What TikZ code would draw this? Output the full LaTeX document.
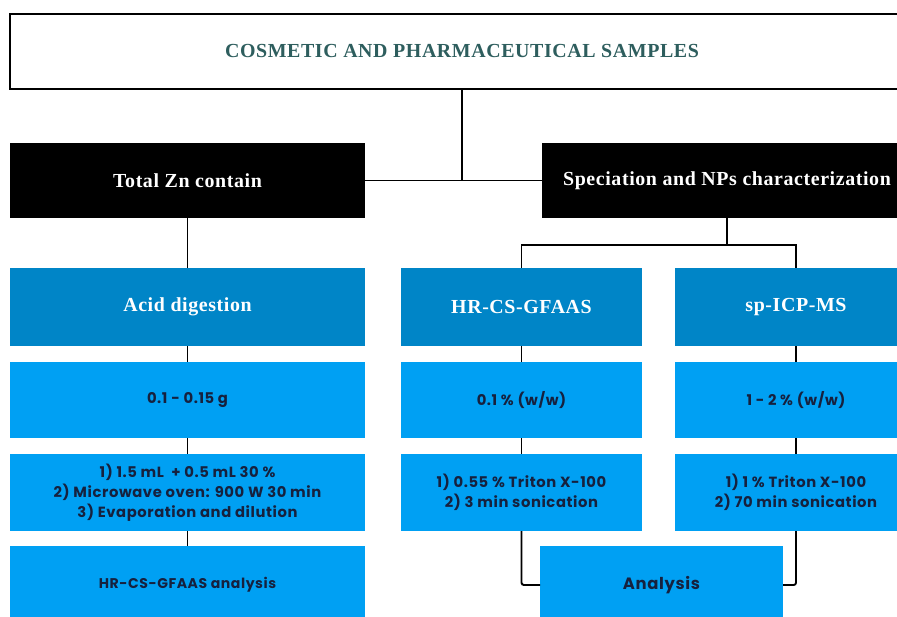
\documentclass[tikz,border=0pt]{standalone}
\usepackage{fontspec}
\setmainfont{Liberation Serif}
\newfontfamily\stepfont{Poppins}[LetterSpace=4]
\newfontfamily\headfont{Liberation Serif}[LetterSpace=3]

\definecolor{titleteal}{HTML}{2E5E5E}
\definecolor{methodblue}{HTML}{0085C7}
\definecolor{stepblue}{HTML}{00A0F3}
\definecolor{stepink}{HTML}{16213E}

\begin{document}
\begin{tikzpicture}[
  x=0.3mm, y=-0.3mm,
  box/.style={inner sep=0pt, outer sep=0pt, align=center},
  titlebox/.style={box, draw=black, line width=2.4pt, fill=white,
    minimum width=271.2mm, minimum height=22.5mm, text=titleteal,
    font=\headfont\bfseries\fontsize{17}{20}\selectfont},
  catbox/.style={box, fill=black, text=white, minimum height=22.5mm,
    font=\headfont\bfseries\fontsize{17}{20}\selectfont},
  methodbox/.style={box, fill=methodblue, text=white, minimum height=23.4mm,
    font=\headfont\bfseries\fontsize{17}{20}\selectfont},
  stepbox/.style={box, fill=stepblue, text=stepink,
    font=\stepfont\bfseries\fontsize{12.6}{17}\selectfont},
  link/.style={line width=1.6pt, black}
]
  \useasboundingbox (0,0) rectangle (897,617);

  % top of the tree
  \node[titlebox] (top) at (462,51.5) {COSMETIC AND PHARMACEUTICAL SAMPLES};

  % the two branches
  \node[catbox, minimum width=106.5mm] (total) at (187.5,180.5) {Total Zn contain};
  \node[catbox, minimum width=111mm] (spec) at (727,180.5) {Speciation and NPs characterization};

  % methods
  \node[methodbox, minimum width=106.5mm] (acid) at (187.5,307) {Acid digestion};
  \node[methodbox, minimum width=72.3mm] (hrcs) at (521.5,307) {HR-CS-GFAAS};
  \node[methodbox, minimum width=72.6mm] (spicp) at (796,307) {sp-ICP-MS};

  % sample mass / concentration
  \node[stepbox, minimum width=106.5mm, minimum height=22.8mm] (mass) at (187.5,400) {0.1 - 0.15 g};
  \node[stepbox, minimum width=72.3mm, minimum height=22.8mm] (hrconc) at (521.5,400) {0.1 \% (w/w)};
  \node[stepbox, minimum width=72.6mm, minimum height=22.8mm] (spconc) at (796,400) {1 - 2 \% (w/w)};

  % preparation
  \node[stepbox, minimum width=106.5mm, minimum height=23.1mm] (digest) at (187.5,492.5)
    {1) 1.5 mL \ + 0.5 mL 30 \%\\2) Microwave oven: 900 W 30 min\\3) Evaporation and dilution};
  \node[stepbox, minimum width=72.3mm, minimum height=23.1mm] (hrprep) at (521.5,492.5)
    {1) 0.55 \% Triton X-100\\2) 3 min sonication};
  \node[stepbox, minimum width=72.6mm, minimum height=23.1mm] (spprep) at (796,492.5)
    {1) 1 \% Triton X-100\\2) 70 min sonication};

  % measurement
  \node[stepbox, minimum width=106.5mm, minimum height=23.4mm,
    font=\stepfont\bfseries\fontsize{12}{17}\selectfont] (gfaas) at (187.5,585) {HR-CS-GFAAS analysis};
  \node[stepbox, minimum width=72.9mm, minimum height=23.4mm,
    font=\stepfont\bfseries\fontsize{14}{17}\selectfont] (analysis) at (661.5,585) {Analysis};

  % connectors
  \draw[link] (top.south) -- (top.south |- total.east);
  \draw[link] (total.east) -- (spec.west);
  \draw[link] (spec.south) -- ++(0,27) coordinate (fork);
  \draw[link] (fork) -| (hrcs.north);
  \draw[link] (fork) -| (spicp.north);
  \foreach \a/\b in {total/acid, acid/mass, mass/digest, digest/gfaas,
                     hrcs/hrconc, hrconc/hrprep, spicp/spconc, spconc/spprep}
    \draw[link] (\a) -- (\b);
  \draw[link, rounded corners=2pt] (hrprep.south) |- (analysis.west);
  \draw[link, rounded corners=2pt] (spprep.south) |- (analysis.east);
\end{tikzpicture}
\end{document}
